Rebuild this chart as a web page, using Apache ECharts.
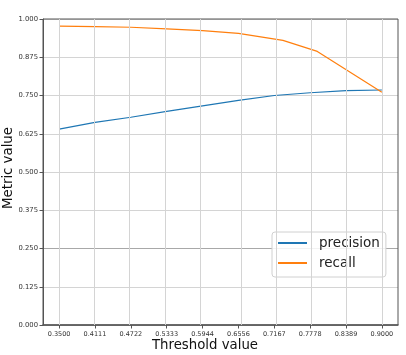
<!DOCTYPE html>
<html><head><meta charset="utf-8">
<script src="https://cdn.jsdelivr.net/npm/echarts@6/dist/echarts.min.js"></script>
<style>html,body{margin:0;padding:0;background:#fff}#c{width:406px;height:355px}</style>
</head><body><div id="c"></div>
<script>
var xTickValues = [0.35, 0.4111, 0.4722, 0.5333, 0.5944, 0.6556, 0.7167, 0.7778, 0.8389, 0.9];
var xTickLabels = ['0.3500','0.4111','0.4722','0.5333','0.5944','0.6556','0.7167','0.7778','0.8389','0.9000'];
var precisionX = [0.35, 0.4111, 0.4722, 0.5333, 0.5944, 0.6556, 0.7167, 0.7778, 0.8389, 0.9];
var precisionY = [0.640, 0.662, 0.679, 0.698, 0.716, 0.734, 0.750, 0.759, 0.766, 0.768];
var recallX = [0.35, 0.4111, 0.4722, 0.5333, 0.5944, 0.6556, 0.7314, 0.79, 0.9];
var recallY = [0.977, 0.975, 0.973, 0.968, 0.962, 0.953, 0.930, 0.894, 0.761];
var yTicks = [0, 0.125, 0.25, 0.375, 0.5, 0.625, 0.75, 0.875, 1.0];

function pairs(xs, ys){ return xs.map(function(x,i){return [x, ys[i]];}); }
var font = 'DejaVu Sans';
var chart = echarts.init(document.getElementById('c'));
var gridColors = yTicks.map(function(v){ return v === 0.25 ? '#a8a8a8' : '#d4d4d4'; });
chart.setOption({
  animation: false,
  grid: {left: 43, right: 8, top: 19, bottom: 30, show: false},
  xAxis: {
    type: 'value', min: 0.3225, max: 0.9275,
    axisLine: {show: true, onZero: false, lineStyle: {color: '#555', width: 1.5}},
    axisTick: {show: true, length: 3.5, customValues: xTickValues, lineStyle: {color: '#555'}},
    axisLabel: {customValues: xTickValues, margin: 6, fontFamily: font, fontSize: 6.5, color: '#333',
      formatter: function(v){ var i = xTickValues.indexOf(v); return i >= 0 ? xTickLabels[i] : ''; }},
    splitLine: {show: false}
  },
  yAxis: {
    type: 'value', min: 0, max: 1, interval: 0.125,
    axisLine: {show: true, lineStyle: {color: '#555'}},
    axisTick: {show: true, length: 3.5, lineStyle: {color: '#555'}},
    axisLabel: {margin: 5, fontFamily: font, fontSize: 6.8, color: '#333', formatter: function(v){ return v.toFixed(3); }},
    splitLine: {show: true, lineStyle: {color: gridColors, width: 1}}
  },
  legend: {
    orient: 'vertical', left: 272, top: 232,
    backgroundColor: 'rgba(255,255,255,0.85)', borderColor: '#d0d0d0', borderWidth: 1, borderRadius: 3,
    padding: [4, 6, 7, 5], itemWidth: 29, itemHeight: 14, itemGap: 6,
    itemStyle: {opacity: 0},
    textStyle: {fontFamily: font, fontSize: 13.5, color: '#222', padding: [0,0,0,7]},
    data: ['precision', 'recall']
  },
  graphic: [
    {type: 'text', style: {text: 'Threshold value', font: '13.3px "DejaVu Sans"', fill: '#111', textAlign: 'center', textVerticalAlign: 'middle', x: 205, y: 346}},
    {type: 'text', rotation: Math.PI/2, x: 9, y: 168, style: {text: 'Metric value', font: '13.3px "DejaVu Sans"', fill: '#111', textAlign: 'center', textVerticalAlign: 'middle'}},
    {type: 'rect', shape: {x: 43, y: 19, width: 355, height: 306}, style: {fill: 'none', stroke: '#555', lineWidth: 1}, z: 5, silent: true}
  ],
  series: [
    {name: 'precision', type: 'line', data: pairs(precisionX, precisionY), symbol: 'none',
     lineStyle: {color: '#1f77b4', width: 1.2}, itemStyle: {color: '#1f77b4'}, z: 3,
     markLine: {silent: true, symbol: 'none', label: {show: false}, animation: false,
       lineStyle: {color: '#d4d4d4', width: 1, type: 'solid'},
       data: xTickValues.map(function(v){ return {xAxis: v}; })}},
    {name: 'recall', type: 'line', data: pairs(recallX, recallY), symbol: 'none',
     lineStyle: {color: '#ff7f0e', width: 1.2}, itemStyle: {color: '#ff7f0e'}, z: 4}
  ]
});
</script></body></html>
